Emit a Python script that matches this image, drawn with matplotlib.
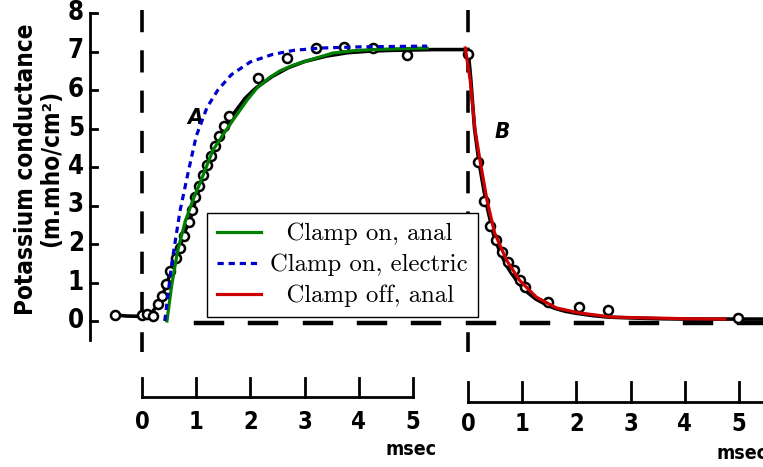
import matplotlib.pyplot as plt

plt.rcParams['lines.scale_dashes'] = False

# axis ticks
g_ticks = [0, 1, 2, 3, 4, 5, 6, 7, 8]
t_ticks = [0, 1, 2, 3, 4, 5]

# --- A: clamp switched on (ms, m.mho/cm2) ---
a_circ_t = [-0.50, 0.0, 0.09, 0.20, 0.30, 0.37, 0.44, 0.52, 0.63, 0.70, 0.77, 0.87, 0.92, 0.98,
            1.05, 1.13, 1.20, 1.27, 1.35, 1.42, 1.51, 1.61, 2.14, 2.68, 3.21, 3.73, 4.26, 4.89]
a_circ_g = [0.16, 0.16, 0.18, 0.13, 0.44, 0.65, 0.96, 1.30, 1.64, 1.90, 2.21, 2.57, 2.88, 3.22,
            3.51, 3.79, 4.05, 4.29, 4.55, 4.81, 5.06, 5.32, 6.31, 6.83, 7.09, 7.12, 7.09, 6.91]

a_black_t = [-0.50, -0.3, 0.0, 0.1, 0.2, 0.3, 0.4, 0.5, 0.6, 0.7, 0.8, 0.9, 1.0, 1.15, 1.3, 1.5,
             1.7, 1.9, 2.1, 2.4, 2.7, 3.0, 3.4, 3.8, 4.2, 4.6, 5.0, 5.4, 5.7, 6.0]
a_black_g = [0.16, 0.13, 0.12, 0.14, 0.25, 0.45, 0.75, 1.15, 1.55, 1.95, 2.35, 2.70, 3.20, 3.85,
             4.35, 4.95, 5.40, 5.78, 6.05, 6.35, 6.58, 6.74, 6.88, 6.97, 7.01, 7.03, 7.04, 7.05,
             7.05, 7.05]

green_t = [0.46, 0.55, 0.66, 0.8, 0.95, 1.07, 1.2, 1.31, 1.5, 1.68, 1.94, 2.12, 2.35, 2.55, 2.8,
           3.10, 3.52, 3.9, 4.26, 4.7, 5.26]
green_g = [0.0, 0.95, 1.84, 2.60, 3.18, 3.58, 4.05, 4.44, 4.85, 5.22, 5.74, 6.05, 6.32, 6.50,
           6.65, 6.78, 6.96, 7.02, 7.05, 7.07, 7.09]

blue_t = [0.42, 0.55, 0.70, 0.85, 1.0, 1.2, 1.4, 1.65, 2.0, 2.4, 2.8, 3.3, 4.0, 4.6, 5.26]
blue_g = [0.0, 1.5, 2.85, 3.85, 4.8, 5.55, 6.0, 6.4, 6.73, 6.92, 7.03, 7.09, 7.12, 7.13, 7.14]

# --- B: clamp switched off ---
b_circ_t = [0.0, 0.18, 0.29, 0.40, 0.51, 0.62, 0.73, 0.84, 0.95, 1.06, 1.48, 2.05, 2.58, 4.98]
b_circ_g = [6.93, 4.13, 3.12, 2.47, 2.10, 1.79, 1.53, 1.32, 1.06, 0.88, 0.49, 0.36, 0.29, 0.08]

b_black_t = [0.0, 0.05, 0.12, 0.2, 0.33, 0.47, 0.6, 0.75, 0.93, 1.1, 1.25, 1.45, 1.6, 1.8, 2.0,
             2.3, 2.6, 3.0, 3.5, 4.0, 4.7, 5.6]
b_black_g = [7.05, 6.3, 5.0, 4.15, 3.1, 2.25, 1.75, 1.35, 0.98, 0.74, 0.57, 0.42, 0.33, 0.25,
             0.2, 0.14, 0.1, 0.08, 0.06, 0.05, 0.05, 0.05]

red_t = [-0.05, 0.04, 0.13, 0.22, 0.35, 0.49, 0.71, 0.95, 1.26, 1.63, 2.05, 2.66, 3.33, 4.0, 4.74]
red_g = [7.09, 6.26, 4.96, 4.18, 3.14, 2.29, 1.58, 1.06, 0.62, 0.34, 0.21, 0.10, 0.08, 0.06, 0.05]

B_OFF = 6.015  # where panel B's time zero sits on the shared axis
SANS = dict(family='DejaVu Sans', fontweight='bold', fontstretch='condensed')

fig = plt.figure(figsize=(7.63, 4.67), dpi=100)
ax = fig.add_axes([0, 0, 1, 1])
ax.set_xlim(-142 / 54.2, 621 / 54.2)
ax.set_ylim(-146 / 38.5, 321 / 38.5)
ax.axis('off')

def sh(ts):
    return [t + B_OFF for t in ts]

# dashed markers: switch times and zero line
for x0 in [0, B_OFF]:
    ax.plot([x0, x0], [8.08, -0.8], color='k', lw=2.6, dashes=(16, 13), zorder=1)
for n in t_ticks[1:]:
    ax.plot([n, n + 0.48], [-0.05, -0.05], color='k', lw=3.2, zorder=1)
for n in t_ticks:
    ax.plot([n + B_OFF, n + B_OFF + 0.48], [-0.05, -0.05], color='k', lw=3.2, zorder=1)

# y axis
ax.plot([-0.96, -0.96], [8.0, -0.49], color='k', lw=2)
for g in g_ticks:
    ax.plot([-0.96, -0.83], [g, g], color='k', lw=2)
    ax.text(-1.22, g, str(g), ha='center', va='center', fontsize=18.5, **SANS)
ax.text(-2.14, 3.95, 'Potassium conductance', rotation=90, ha='center', va='center',
        fontsize=17.5, **SANS)
ax.text(-1.68, 3.95, '(m.mho/cm²)', rotation=90, ha='center', va='center',
        fontsize=17.5, **SANS)

# time axes
for off, ybase, ytop, ylab, xend in [(0, -1.97, -1.48, -2.62, 5.0),
                                       (B_OFF, -2.10, -1.58, -2.68, 5.6)]:
    ax.plot([off, off + xend], [ybase, ybase], color='k', lw=2)
    for t in t_ticks:
        ax.plot([off + t, off + t], [ybase, ytop], color='k', lw=2)
        ax.text(off + t, ylab, str(t), ha='center', va='center', fontsize=17, **SANS)
ax.text(4.50, -3.35, 'msec', ha='left', va='center', fontsize=14, **SANS)
ax.text(B_OFF + 4.58, -3.43, 'msec', ha='left', va='center', fontsize=14, **SANS)

ax.text(0.98, 5.27, 'A', ha='center', va='center', fontsize=16, style='italic', **SANS)
ax.text(B_OFF + 0.64, 4.91, 'B', ha='center', va='center', fontsize=16, style='italic', **SANS)

# original curves and points
ax.plot(a_black_t, a_black_g, color='k', lw=2.6, zorder=2)
ax.plot(sh(b_black_t), b_black_g, color='k', lw=2.6, zorder=2)
ax.plot(a_circ_t, a_circ_g, 'o', ms=6.5, mfc='white', mec='k', mew=1.8, zorder=3)
ax.plot(sh(b_circ_t), b_circ_g, 'o', ms=6.5, mfc='white', mec='k', mew=1.8, zorder=3)

# computed curves
h1, = ax.plot(green_t, green_g, color='#008000', lw=2.3, zorder=4)
h2, = ax.plot(blue_t, blue_g, color='#0000cc', lw=2.3, dashes=(4.5, 3.5), zorder=4)
h3, = ax.plot(sh(red_t), red_g, color='#cc0000', lw=2.3, zorder=4)

leg = ax.legend([h1, h2, h3], ['  Clamp on, anal', 'Clamp on, electric', '  Clamp off, anal'],
                loc='upper left', bbox_to_anchor=(207 / 763, 1 - 213 / 467),
                bbox_transform=fig.transFigure, borderaxespad=0, fancybox=False,
                framealpha=1, edgecolor='k', handlelength=1.8, handletextpad=0.35,
                labelspacing=0.34, borderpad=0.4, prop={'family': 'cmr10', 'size': 17.8})
leg.get_frame().set_linewidth(1.0)
leg.set_zorder(5)

fig.savefig('out.png', dpi=100)
